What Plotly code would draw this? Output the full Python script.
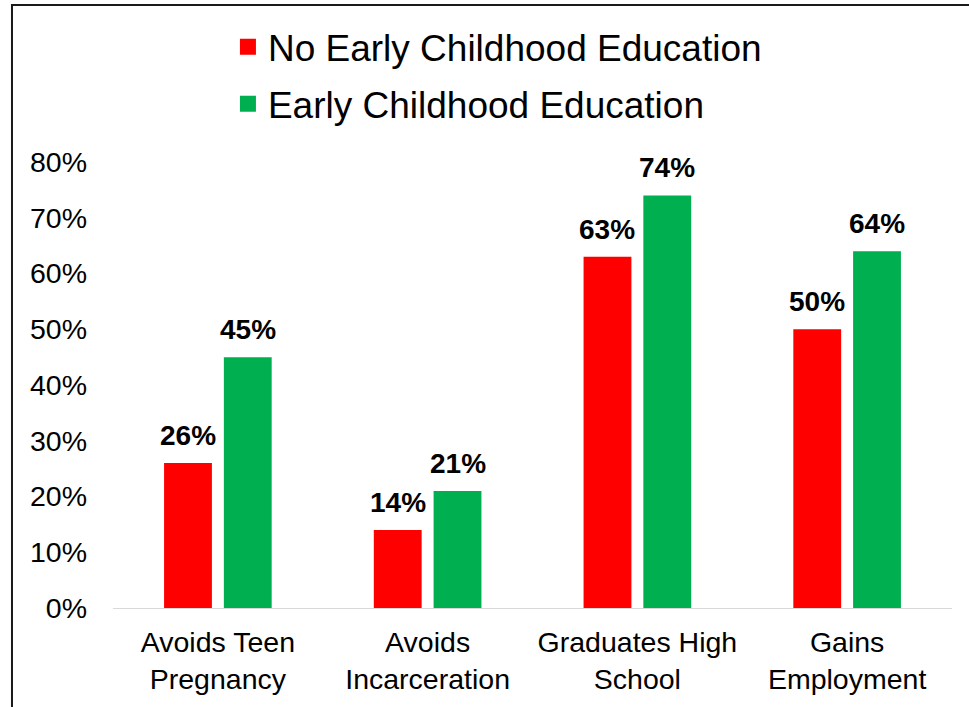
import plotly.graph_objects as go

categories = ["Avoids Teen<br>Pregnancy", "Avoids<br>Incarceration", "Graduates High<br>School", "Gains<br>Employment"]
no_ece = [26, 14, 63, 50]
ece = [45, 21, 74, 64]
series_names = ["No Early Childhood Education", "Early Childhood Education"]
colors = ["#FF0000", "#00B050"]
tick_vals = [0, 10, 20, 30, 40, 50, 60, 70, 80]
tick_text = [f"{v}%" for v in tick_vals]

W, H = 969, 707
ML, MR, MT, MB = 113, 17, 162, 99
BARGAP, GROUPGAP = 0.43, 0.2
cat_px = (W - ML - MR) / len(categories)
slot_px = cat_px * (1 - BARGAP) / 2

fig = go.Figure()
annotations = []
for i, (name, vals, col) in enumerate(zip(series_names, [no_ece, ece], colors)):
    fig.add_trace(go.Bar(
        x=categories, y=vals, name=name, marker=dict(color=col, line=dict(width=0)),
        showlegend=False,
    ))
    fig.add_trace(go.Scatter(
        x=[None], y=[None], mode="markers", name=name, legendgroup=f"g{i}",
        marker=dict(symbol="square", size=19, color=col), showlegend=True,
    ))
    shift = (i - 0.5) * slot_px
    for c, v in zip(categories, vals):
        annotations.append(dict(
            x=c, y=v, xref="x", yref="y", text=f"{v}%", showarrow=False,
            xanchor="center", yanchor="bottom", xshift=shift, yshift=10,
            font=dict(size=28, color="black", weight="bold"),
        ))

fig.update_layout(
    width=W, height=H,
    margin=dict(l=ML, r=MR, t=MT, b=MB),
    paper_bgcolor="white", plot_bgcolor="white",
    barmode="group", bargap=BARGAP, bargroupgap=GROUPGAP,
    font=dict(family="Liberation Sans, Arial", color="black"),
    legend=dict(x=0.137, y=1.327, xanchor="left", yanchor="top",
                font=dict(size=37), bgcolor="rgba(0,0,0,0)", tracegroupgap=6),
    xaxis=dict(showline=True, linecolor="#D9D9D9", linewidth=1, ticks="",
               tickfont=dict(size=28.5), showgrid=False, ticklabelstandoff=9),
    yaxis=dict(range=[0, 80], tickvals=tick_vals, ticktext=tick_text, showgrid=False,
               zeroline=False, tickfont=dict(size=28.5), ticklabelstandoff=25),
    annotations=annotations,
    shapes=[dict(type="rect", xref="paper", yref="paper",
                 x0=-0.1204, x1=1.2, y0=-0.5, y1=1.352,
                 line=dict(color="#1a1a1a", width=2), fillcolor="rgba(0,0,0,0)", layer="below")],
)

fig.write_html("out.html")
